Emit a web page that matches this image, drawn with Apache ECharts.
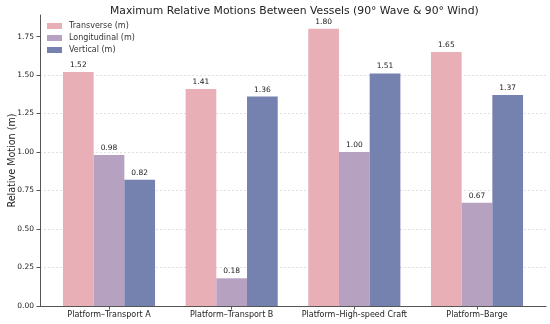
<!DOCTYPE html>
<html><head><meta charset="utf-8">
<script src="https://cdn.jsdelivr.net/npm/echarts@6/dist/echarts.min.js"></script>
<style>html,body{margin:0;padding:0;background:#fff}#c{width:550px;height:324px}</style>
</head><body><div id="c"></div>
<script>
const categories = ['Platform–Transport A', 'Platform–Transport B', 'Platform–High-speed Craft', 'Platform–Barge'];
const transverse = [1.52, 1.41, 1.80, 1.65];
const longitudinal = [0.98, 0.18, 1.00, 0.67];
const vertical = [0.82, 1.36, 1.51, 1.37];
const yTicks = [0, 0.25, 0.5, 0.75, 1.0, 1.25, 1.5, 1.75];
const seriesNames = ['Transverse (m)', 'Longitudinal (m)', 'Vertical (m)'];
const colors = ['#E8AFB7', '#B6A1C0', '#7581AF'];
const FONT = 'DejaVu Sans';
const pos = categories.map((c, i) => i);
function mk(name, vals, color) {
  return {
    name, type: 'bar', barWidth: 30.7, barGap: '0%',
    itemStyle: { color },
    label: { show: true, position: 'top', distance: 3, fontSize: 7.5, fontFamily: FONT, color: '#222',
      formatter: p => p.value[1].toFixed(2) },
    data: vals.map((v, i) => [pos[i], v])
  };
}
const chart = echarts.init(document.getElementById('c'), null, { renderer: 'canvas' });
chart.setOption({
  animation: false,
  textStyle: { fontFamily: FONT },
  title: { text: 'Maximum Relative Motions Between Vessels (90° Wave & 90° Wind)', left: 105, top: 1,
    textStyle: { fontSize: 10.8, fontWeight: 'normal', color: '#222', fontFamily: FONT } },
  legend: { orient: 'vertical', left: 47, top: 21, padding: 0, itemWidth: 15, itemHeight: 6, itemGap: 2,
    icon: 'rect', textStyle: { fontSize: 8, color: '#333', fontFamily: FONT, lineHeight: 10, padding: [0, 0, 0, 2] },
    data: seriesNames },
  grid: { left: 40, right: 4, top: 15, bottom: 18, containLabel: false, outerBoundsMode: 'none' },
  xAxis: { type: 'value', min: -0.5625, max: 3.5625,
    axisLine: { show: true, onZero: false, lineStyle: { color: '#555', width: 1 } },
    axisTick: { show: true, length: 3.5, customValues: pos, lineStyle: { color: '#555' } },
    axisLabel: { customValues: pos, fontSize: 8, color: '#222', margin: 5, fontFamily: FONT,
      formatter: v => categories[Math.round(v)] },
    splitLine: { show: false } },
  yAxis: { type: 'value', min: 0, max: 1.89, interval: 0.25,
    name: 'Relative Motion (m)', nameLocation: 'middle', nameGap: 23, nameMoveOverlap: false,
    nameTextStyle: { fontSize: 9.6, color: '#222', fontFamily: FONT },
    axisLine: { show: true, onZero: false, lineStyle: { color: '#555', width: 1 } },
    axisTick: { show: true, length: 3.5, customValues: yTicks, lineStyle: { color: '#555' } },
    axisLabel: { customValues: yTicks, fontSize: 7.5, color: '#222', margin: 6, fontFamily: FONT,
      formatter: v => v.toFixed(2) },
    splitLine: { show: true, showMaxLine: false, showMinLine: false, lineStyle: { color: '#d8d8d8', type: [2, 2], width: 0.8 } } },
  series: [mk(seriesNames[0], transverse, colors[0]), mk(seriesNames[1], longitudinal, colors[1]), mk(seriesNames[2], vertical, colors[2])]
});
</script></body></html>
